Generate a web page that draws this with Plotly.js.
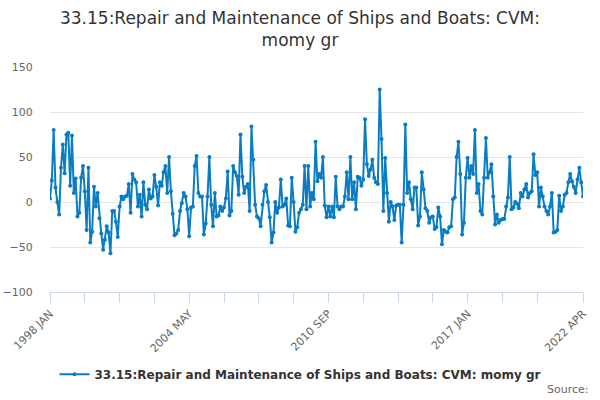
<!DOCTYPE html>
<html>
<head>
<meta charset="utf-8">
<script src="https://cdn.plot.ly/plotly-3.0.1.min.js"></script>
<style>
  html, body { margin: 0; padding: 0; background: #fff; }
  #chart { width: 600px; height: 400px; }
</style>
</head>
<body>
<div id="chart"></div>
<script>
// monthly growth, 1998 JAN .. 2022 APR
var monthNames = ['JAN','FEB','MAR','APR','MAY','JUN','JUL','AUG','SEP','OCT','NOV','DEC'];
var firstYear = 1998;

var vals1998 = [4,24,80,16,0,-14,38,64,32,75,77,18,74,10,26,-16,-12,27,40,12,-31,38,-45,-33,17,
  -5,10,-18,-35,-53,-42,-27,-34,-57,-10,-10,-22,-39,-5,6,3,6,7,20,-12,31,25,22,-5,8];
var vals2002 = [-16,22,-3,-8,14,4,6,30,17,-4,22,18,33,40,10,50,12,-13,-37,-35,-31,-10,-1,10,
  6,-8,-38,-6,-5,40,51,10,6,6,-36,-24,6,50,-3,-27,10,-16,-15,-5,-10,-6,4,34];
var vals2006 = [-15,-10,40,33,29,8,75,28,10,17,20,-10,84,47,-3,-16,-18,-27,-3,12,19,0,-17,-45,
  -34,0,-12,-6,25,-5,-3,4,-26,-27,27,0,-33,-28,-12,-8,-3,40,-8,40,-5,10,3,67];
var vals2010 = [23,31,27,50,-4,-17,-5,-16,-5,-17,28,-5,-8,-5,-5,6,33,3,50,3,22,-8,28,27,18,25,
  92,42,29,36,47,27,22,20,125,70,-10,49,10,-22,0,-5,-20,-4,-3,-3,-45,-3,86,10,22];
var vals2014 = [3,-8,16,16,-26,-16,33,14,-7,-10,-23,-17,-16,-30,-28,-6,-16,-47,-31,-33,-34,-28,
  -27,3,5,50,67,31,-36,-23,27,49,27,40,31,80,10,20,-10,-14,27,71,27,33,42,6,-25,-14,-23];
var vals2018 = [-20,-19,-19,-5,5,50,-8,-6,0,-2,-7,10,6,14,20,5,10,12,53,30,33,-5,16,6,-5,-10,
  -14,-5,10,-34,-33,-31,7,-10,-5,8,10,22,31,23,17,10,25,38,22,6];

var values = vals1998.concat(vals2002, vals2006, vals2010, vals2014, vals2018);

var months = [];
for (var i = 0; i < values.length; i++) {
  months.push((firstYear + Math.floor(i / 12)) + ' ' + monthNames[i % 12]);
}

// ticks every 19 months, labels every 76, plus the last month
var tickIdx = [0,19,38,57,76,95,114,133,152,171,190,209,228,247,266,291];
var labelIdx = [0,76,152,228,291];

var tickVals = tickIdx.map(function (k) { return months[k]; });
var tickText = tickIdx.map(function (k) { return labelIdx.indexOf(k) >= 0 ? months[k] : ''; });

var trace = {
  x: months,
  y: values,
  type: 'scatter',
  mode: 'lines+markers',
  name: '33.15:Repair and Maintenance of Ships and Boats: CVM: momy gr',
  line: { color: '#0a7cc2', width: 2 },
  marker: { color: '#0a7cc2', size: 4 }
};

var layout = {
  width: 600,
  height: 400,
  margin: { l: 50, r: 17, t: 67, b: 107 },
  paper_bgcolor: '#fff',
  plot_bgcolor: '#fff',
  font: { family: 'DejaVu Sans, sans-serif', color: '#666' },
  title: {
    text: '33.15:Repair and Maintenance of Ships and Boats: CVM:<br>momy gr',
    font: { size: 17, color: '#333' },
    x: 0.5, xanchor: 'center',
    yref: 'container',
    y: 0.94, yanchor: 'middle'
  },
  xaxis: {
    type: 'category',
    range: [0, values.length - 1],
    tickmode: 'array',
    tickvals: tickVals,
    ticktext: tickText,
    tickangle: -45,
    ticks: 'outside',
    ticklen: 10,
    tickcolor: '#ccd6eb',
    showline: true,
    linecolor: '#ccd6eb',
    showgrid: false,
    zeroline: false,
    tickfont: { size: 11, color: '#666' }
  },
  yaxis: {
    range: [-100, 150],
    tickvals: [-100, -50, 0, 50, 100, 150],
    gridcolor: '#e6e6e6',
    zeroline: false,
    showline: false,
    ticks: 'outside',
    ticklen: 14,
    tickcolor: 'rgba(0,0,0,0)',
    tickfont: { size: 11, color: '#666' }
  },
  showlegend: true,
  legend: {
    orientation: 'h',
    x: 0.47, xanchor: 'center',
    y: -0.36, yanchor: 'middle',
    font: { size: 12, color: '#333', weight: 'bold' }
  },
  annotations: [{
    text: 'Source:',
    xref: 'paper', yref: 'paper',
    x: 1.015, xanchor: 'right',
    y: -0.435, yanchor: 'middle',
    showarrow: false,
    font: { size: 11, color: '#666' }
  }]
};

Plotly.newPlot('chart', [trace], layout, { displayModeBar: false, staticPlot: true });
</script>
</body>
</html>
